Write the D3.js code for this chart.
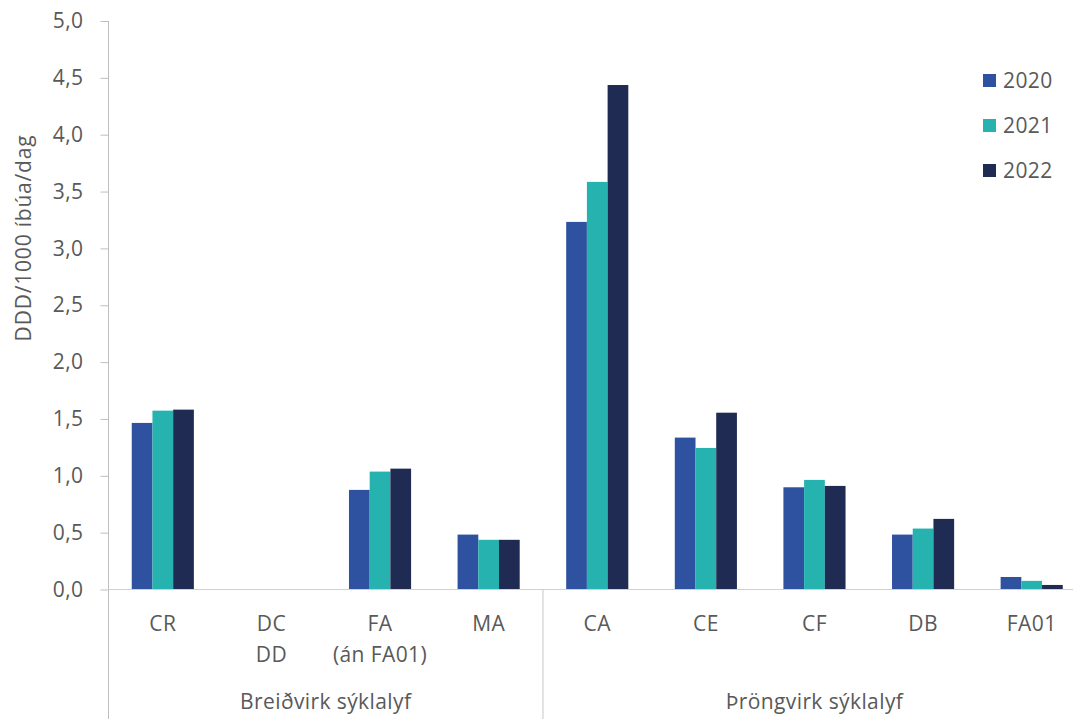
<!DOCTYPE html>
<html><head><meta charset="utf-8">
<script src="https://cdn.jsdelivr.net/npm/d3@7"></script>
<style>
html,body{margin:0;padding:0;background:#fff;}
svg{display:block;font-family:"Open Sans", sans-serif;}
svg text{letter-spacing:0.4px;}
</style></head>
<body>
<svg id="chart" width="1073" height="719"></svg>
<script>
const categories = ["CR", "DC\nDD", "FA\n(án FA01)", "MA", "CA", "CE", "CF", "DB", "FA01"];
const groups = [
  {name: "Breiðvirk sýklalyf", from: 0, to: 3},
  {name: "Þröngvirk sýklalyf", from: 4, to: 8}
];
const seriesNames = ["2020", "2021", "2022"];
const values2020 = [1.465, 0, 0.876, 0.483, 3.233, 1.336, 0.899, 0.483, 0.11];
const values2021 = [1.573, 0, 1.037, 0.437, 3.585, 1.245, 0.964, 0.536, 0.076];
const values2022 = [1.582, 0, 1.063, 0.437, 4.437, 1.555, 0.911, 0.621, 0.04];
const yTicks = [0, 0.5, 1, 1.5, 2, 2.5, 3, 3.5, 4, 4.5, 5];
const colors = ["#2F52A0", "#26B2AF", "#1F2B53"];

const seriesValues = [values2020, values2021, values2022];
const svg = d3.select("#chart");
const mLeft = 108.5, mRight = 1086, mTop = 21, mBottom = 589.5;
const fs = "21px";

const x = d3.scaleBand().domain(categories).range([mLeft, mRight]).padding(0);
const groupFrac = 0.572;
const x1 = d3.scaleBand().domain(seriesNames).range([0, x.bandwidth()])
  .paddingInner(0).paddingOuter((3 / groupFrac - 3) / 2);
const y = d3.scaleLinear().domain([0, 5]).range([mBottom, mTop]);

// y axis
const yAxis = d3.axisLeft(y).tickValues(yTicks).tickSize(8).tickPadding(17)
  .tickFormat(d => d3.format(".1f")(d).replace(".", ","));
const ya = svg.append("g").attr("transform", `translate(${mLeft},0)`).call(yAxis);
ya.select(".domain").remove();
ya.selectAll(".tick line").attr("stroke", "#bfbfbf").attr("stroke-width", 1);
ya.selectAll(".tick text").attr("fill", "#595959").style("font-size", fs)
  .attr("font-family", "'Open Sans', sans-serif");
svg.append("line").attr("x1", mLeft).attr("x2", mLeft).attr("y1", mTop).attr("y2", 719)
  .attr("stroke", "#bfbfbf").attr("stroke-width", 1);

// bars
const data = categories.map((c, i) => ({cat: c, vals: seriesNames.map((s, j) => ({s, v: seriesValues[j][i], j}))}));
const g = svg.append("g").selectAll("g").data(data).join("g")
  .attr("transform", d => `translate(${x(d.cat)},0)`);
g.selectAll("rect").data(d => d.vals).join("rect")
  .attr("x", d => x1(d.s)).attr("width", x1.bandwidth())
  .attr("y", d => y(d.v)).attr("height", d => y(0) - y(d.v))
  .attr("fill", d => colors[d.j]);

// x axis line
svg.append("line").attr("x1", mLeft).attr("x2", mRight).attr("y1", mBottom).attr("y2", mBottom)
  .attr("stroke", "#d0d0d0").attr("stroke-width", 1.2);

// category labels
categories.forEach(c => {
  const lines = c.split("\n");
  const t = svg.append("text").attr("text-anchor", "middle").attr("fill", "#595959")
    .style("font-size", fs);
  lines.forEach((ln, k) => {
    t.append("tspan").attr("x", x(c) + x.bandwidth() / 2).attr("y", 631 + k * 31).text(ln);
  });
});

// group separators and labels
groups.forEach((gr, i) => {
  const x0 = x(categories[gr.from]);
  const xe = x(categories[gr.to]) + x.bandwidth();
  if (i > 0) {
    svg.append("line").attr("x1", x0).attr("x2", x0).attr("y1", mBottom).attr("y2", 719)
      .attr("stroke", "#d0d0d0").attr("stroke-width", 1.2);
  }
  svg.append("text").attr("x", (x0 + xe) / 2).attr("y", 709).attr("text-anchor", "middle")
    .attr("fill", "#595959").style("font-size", fs).text(gr.name);
});

// y axis title
svg.append("text").attr("transform", "translate(31,238) rotate(-90)")
  .attr("text-anchor", "middle").attr("fill", "#595959").style("font-size", fs)
  .style("letter-spacing", "0.8px")
  .text("DDD/1000 íbúa/dag");

// legend
const lg = svg.append("g").selectAll("g").data(seriesNames).join("g")
  .attr("transform", (d, i) => `translate(983,${80 + i * 45})`);
lg.append("rect").attr("x", 0).attr("y", -6).attr("width", 13).attr("height", 13)
  .attr("fill", (d, i) => colors[i]);
lg.append("text").attr("x", 20).attr("y", 8).attr("fill", "#595959")
  .style("font-size", fs).text(d => d);
</script>
</body></html>
